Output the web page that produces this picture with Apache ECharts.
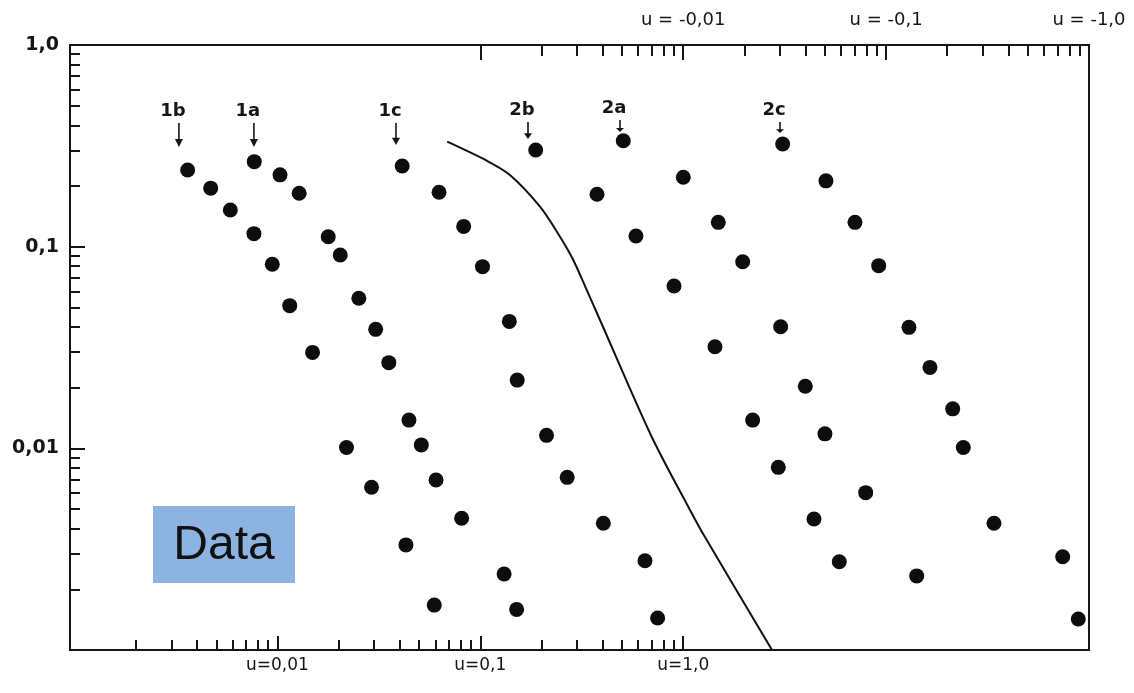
<!DOCTYPE html>
<html>
<head>
<meta charset="utf-8">
<script src="https://cdn.jsdelivr.net/npm/echarts@6/dist/echarts.min.js"></script>
<style>
html,body{margin:0;padding:0;background:#fff;}
#main{width:1134px;height:693px;}
</style>
</head>
<body>
<div id="main"></div>
<script>
// ---------- data ----------
const s1b_u = [0.00361, 0.00469, 0.00586, 0.00766, 0.00943, 0.0115, 0.0149, 0.0219, 0.0291, 0.0430, 0.0593];
const s1b_v = [0.240, 0.195, 0.152, 0.116, 0.0818, 0.0510, 0.0299, 0.0101, 0.00641, 0.00332, 0.00167];

const s1a_u = [0.00769, 0.0103, 0.0128, 0.0178, 0.0204, 0.0252, 0.0305, 0.0354, 0.0445, 0.0512, 0.0605, 0.0809, 0.131, 0.151];
const s1a_v = [0.264, 0.227, 0.184, 0.112, 0.0909, 0.0555, 0.0389, 0.0266, 0.0138, 0.0104, 0.00697, 0.00450, 0.00238, 0.00159];

const s1c_u = [0.0412, 0.0626, 0.0828, 0.1025, 0.139, 0.152, 0.212, 0.268, 0.404, 0.648, 0.748];
const s1c_v = [0.251, 0.186, 0.126, 0.0796, 0.0426, 0.0218, 0.0116, 0.00718, 0.00425, 0.00277, 0.00144];

const s2b_u = [0.1875, 0.376, 0.585, 0.901, 1.434, 2.199, 2.942, 4.411, 5.878];
const s2b_v = [0.3015, 0.1818, 0.113, 0.0638, 0.0319, 0.0138, 0.00805, 0.00446, 0.00274];

const s2a_u = [0.5065, 1.001, 1.489, 1.964, 3.022, 3.997, 4.996, 7.931, 14.15];
const s2a_v = [0.335, 0.221, 0.132, 0.0842, 0.0401, 0.0203, 0.0118, 0.00603, 0.00233];

const s2c_u = [3.092, 5.052, 7.023, 9.192, 12.96, 16.45, 21.29, 24.01, 34.01, 74.18, 88.54];
const s2c_v = [0.323, 0.212, 0.132, 0.0805, 0.0398, 0.0252, 0.0157, 0.0101, 0.00425, 0.0029, 0.001425];

const curve_u = [0.0687, 0.1075, 0.1400, 0.1969, 0.2470, 0.2872, 0.3344, 0.3889, 0.6992, 1.080, 1.280, 2.74];
const curve_v = [0.3315, 0.2669, 0.2266, 0.1578, 0.1121, 0.0859, 0.0610, 0.0433, 0.01142, 0.00495, 0.00363, 0.001];

// annotation arrows (tip positions in data coordinates)
const annoNames = ['1b', '1a', '1c', '2b', '2a', '2c'];
const annoU = [0.00327, 0.00766, 0.0384, 0.1718, 0.488, 3.0];
const annoV = [0.312, 0.312, 0.319, 0.342, 0.370, 0.366];

// tick labels
const bottomLabelVals = [0.01, 0.1, 1];
const bottomLabelText = ['u=0,01', 'u=0,1', 'u=1,0'];
const topLabelVals = [0.01, 0.1, 1];
const topLabelText = ['u = -0,01', 'u = -0,1', 'u = -1,0'];
const yLabelVals = [1, 0.1, 0.01];
const yLabelText = ['1,0', '0,1', '0,01'];

// tick positions
const bottomMajor = [0.01, 0.1, 1];
const bottomDecades = [0.001, 0.01, 0.1];
const topMajor = [0.001, 0.01, 0.1, 1];
const topDecades = [0.001, 0.01, 0.1];
const yMajor = [1, 0.1, 0.01];
const yDecades = [0.001, 0.01, 0.1];
const minorMult = [2, 3, 4, 5, 6, 7, 8, 9];

// ---------- styling / layout ----------
const X_MIN = 0.00095, X_MAX = 100;
const TOP_SHIFT = 100; // top scale |u| = bottom u / 100
const INK = '#151515';
const FONT = 'DejaVu Sans';
const arrowLens = [24, 24, 22, 17, 12, 11];
const ARROW = 'path://M3.2,0 L4.8,0 L4.8,16 L8,16 L4,24 L0,16 L3.2,16 Z';

function minors(decades) {
  const out = [];
  decades.forEach(d => minorMult.forEach(m => out.push(+(d * m).toPrecision(6))));
  return out;
}
function lookup(vals, texts) {
  return function (v) {
    let best = 0, bd = Infinity;
    vals.forEach((x, i) => {
      const d = Math.abs(Math.log10(v) - Math.log10(x));
      if (d < bd) { bd = d; best = i; }
    });
    return bd < 0.01 ? texts[best] : '';
  };
}
function zip(u, v) { return u.map((x, i) => [x, v[i]]); }

const lineStyle = { color: INK, width: 2 };

function baseAxis(extra) {
  return Object.assign({
    type: 'log', logBase: 10, gridIndex: 0,
    splitLine: { show: false }, minorTick: { show: false }, minorSplitLine: { show: false },
    axisPointer: { show: false }
  }, extra);
}

const xAxes = [
  baseAxis({
    position: 'bottom', min: X_MIN, max: X_MAX,
    axisLine: { show: true, onZero: false, lineStyle },
    axisTick: { show: true, inside: true, length: 14, lineStyle: { color: INK, width: 2 }, customValues: bottomMajor },
    axisLabel: { show: true, customValues: bottomLabelVals, formatter: lookup(bottomLabelVals, bottomLabelText),
      margin: 7, fontSize: 17, color: INK, fontFamily: FONT }
  }),
  baseAxis({
    position: 'bottom', min: X_MIN, max: X_MAX,
    axisLine: { show: false },
    axisTick: { show: true, inside: true, length: 10, lineStyle: { color: INK, width: 2 }, customValues: minors(bottomDecades) },
    axisLabel: { show: false }
  }),
  baseAxis({
    position: 'top', min: X_MIN / TOP_SHIFT, max: X_MAX / TOP_SHIFT,
    axisLine: { show: true, onZero: false, lineStyle },
    axisTick: { show: true, inside: true, length: 15, lineStyle: { color: INK, width: 2 }, customValues: topMajor },
    axisLabel: { show: true, customValues: topLabelVals, formatter: lookup(topLabelVals, topLabelText),
      margin: 16, fontSize: 18, color: INK, fontFamily: FONT }
  }),
  baseAxis({
    position: 'top', min: X_MIN / TOP_SHIFT, max: X_MAX / TOP_SHIFT,
    axisLine: { show: false },
    axisTick: { show: true, inside: true, length: 11, lineStyle: { color: INK, width: 2 }, customValues: minors(topDecades) },
    axisLabel: { show: false }
  })
];

const yAxes = [
  baseAxis({
    position: 'left', min: 0.001, max: 1,
    axisLine: { show: true, onZero: false, lineStyle },
    axisTick: { show: true, inside: true, length: 15, lineStyle: { color: INK, width: 2 }, customValues: yMajor },
    axisLabel: { show: true, customValues: yLabelVals, formatter: lookup(yLabelVals, yLabelText),
      margin: 11, fontSize: 19, fontWeight: 'bold', color: INK, fontFamily: FONT }
  }),
  baseAxis({
    position: 'left', min: 0.001, max: 1,
    axisLine: { show: false },
    axisTick: { show: true, inside: true, length: 10, lineStyle: { color: INK, width: 2 }, customValues: minors(yDecades) },
    axisLabel: { show: false }
  }),
  baseAxis({
    position: 'right', min: 0.001, max: 1,
    axisLine: { show: true, onZero: false, lineStyle },
    axisTick: { show: false }, axisLabel: { show: false }
  })
];

const groups = [
  ['1b', s1b_u, s1b_v], ['1a', s1a_u, s1a_v], ['1c', s1c_u, s1c_v],
  ['2b', s2b_u, s2b_v], ['2a', s2a_u, s2a_v], ['2c', s2c_u, s2c_v]
];

const series = groups.map(([name, u, v]) => {
  const i = annoNames.indexOf(name);
  const len = arrowLens[i];
  return {
    name, type: 'scatter', xAxisIndex: 0, yAxisIndex: 0,
    data: zip(u, v), symbol: 'circle', symbolSize: 15,
    itemStyle: { color: '#0d0d0d', opacity: 1 }, silent: true,
    markPoint: {
      silent: true, animation: false,
      data: [{
        coord: [annoU[i], annoV[i]], value: name,
        symbol: ARROW, symbolSize: [8, len], symbolOffset: [0, -len / 2],
        itemStyle: { color: INK, opacity: 1 },
        label: { show: true, position: 'top', distance: 3, offset: [-6, 0], formatter: name,
          fontSize: 18, fontWeight: 'bold', color: INK, fontFamily: FONT }
      }]
    }
  };
});

series.push({
  name: 'curve', type: 'line', xAxisIndex: 0, yAxisIndex: 0,
  data: zip(curve_u, curve_v), showSymbol: false, symbol: 'none',
  smooth: 0.3, lineStyle: { color: '#111', width: 2 }, silent: true, clip: true
});

const chart = echarts.init(document.getElementById('main'), null, { renderer: 'canvas' });
chart.setOption({
  animation: false,
  backgroundColor: '#fff',
  grid: { left: 70, top: 45, width: 1019, height: 605, containLabel: false, outerBoundsMode: 'none' },
  xAxis: xAxes,
  yAxis: yAxes,
  series,
  graphic: [{
    type: 'group', left: 153, top: 506,
    children: [
      { type: 'rect', shape: { x: 0, y: 0, width: 142, height: 77 }, style: { fill: '#8db3e2' } },
      { type: 'text', x: 71, y: 40, style: { text: 'Data', fontSize: 48, fontFamily: 'Liberation Sans', fill: '#111', align: 'center', verticalAlign: 'middle' } }
    ]
  }]
});
</script>
</body>
</html>
